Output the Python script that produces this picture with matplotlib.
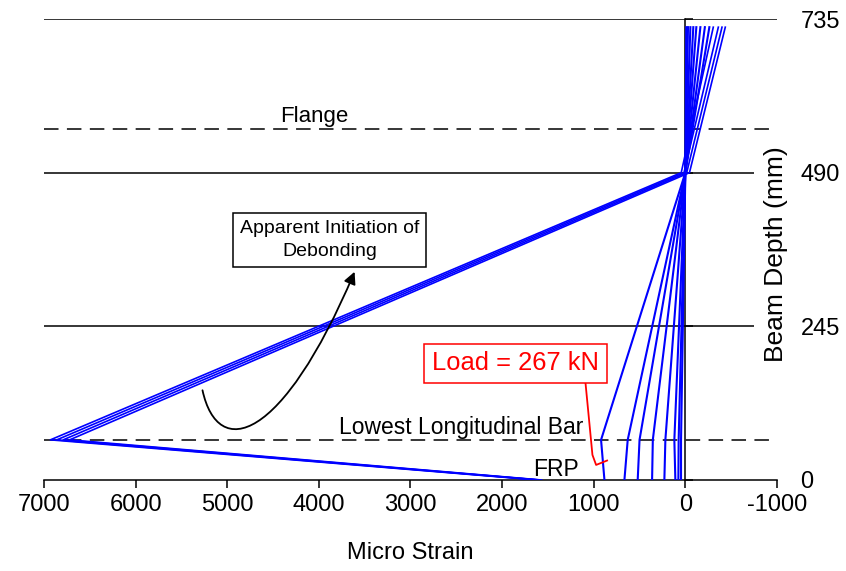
import numpy as np
import matplotlib
matplotlib.use("Agg")
import matplotlib.pyplot as plt
from matplotlib.path import Path
from matplotlib.patches import FancyArrowPatch

plt.rcParams['font.family'] = ['Liberation Sans', 'DejaVu Sans']
plt.rcParams['axes.unicode_minus'] = False

# gauge depths (mm) : FRP, lowest bar, mid, top
gauge_depth = [0, 64, 490, 722]

# strain profiles (micro strain) at the gauge depths, one row per load step
frp_strain = [47, 76, 109, 229, 363, 520, 665, 883, 1620, 1600, 1590, 1570]
bar_strain = [47, 73, 120, 218, 355, 500, 629, 920, 6930, 6860, 6790, 6720]
mid_strain = [0, 0, 0, 0, 0, 0, 0, 0, 45, 15, -15, -45]
top_strain = [-10, -29, -55, -87, -120, -164, -213, -262, -305, -360, -400, -436]

solid_levels = [245, 490, 735]
dashed_levels = [64, 560]
depth_ticks = [0, 245, 490, 735]
strain_ticks = [7000, 6000, 5000, 4000, 3000, 2000, 1000, 0, -1000]

# bezier leader of "Apparent Initiation of Debonding" (start, ctrl, ctrl, end)
debond_path = [(5270, 143), (5100, 30), (4400, 60), (3610, 332)]
# red leader from the load label
load_x = [1090, 1014, 974, 854]
load_y = [155, 40, 24, 31]

fig = plt.figure(figsize=(8.46, 5.71), dpi=100)
ax = fig.add_axes([0.052, 0.1594, 0.8664, 0.8073])

ax.set_xlim(7000, -1000)
ax.set_ylim(0, 735)

for i in range(len(frp_strain)):
    xs = [frp_strain[i], bar_strain[i], mid_strain[i], top_strain[i]]
    lw = 1.5 if i < 8 else 1.2
    ax.plot(xs, gauge_depth, color='#0000FF', lw=lw, zorder=3)

dash = (0, (9.5, 5.5))
ax.hlines(735, 7000, -1000, color='k', lw=1.1, zorder=2)
ax.hlines([245, 490], 7000, -750, color='k', lw=1.1, zorder=2)
ax.hlines(dashed_levels, 7000, -1000, color='k', lw=1.1, linestyles=dash, zorder=2)

for s in ['top', 'right']:
    ax.spines[s].set_visible(False)
ax.spines['left'].set_position(('data', 0))
ax.spines['left'].set_bounds(0, 735)
ax.spines['left'].set_linewidth(1.1)
ax.spines['bottom'].set_linewidth(1.1)

ax.set_xticks(strain_ticks)
ax.set_yticks(depth_ticks)
ax.tick_params(axis='x', direction='out', length=6, width=1.1, labelsize=17, pad=4)
ax.tick_params(axis='y', direction='in', length=6, width=1.1, left=True, right=False,
               labelleft=False, labelright=True, labelsize=17, pad=17)
ax.set_xlabel('Micro Strain', fontsize=17, labelpad=19)
ax.text(0.998, 0.49, 'Beam Depth (mm)', transform=ax.transAxes, rotation=90,
        ha='center', va='center', fontsize=19)

ax.text(4046, 580, 'Flange', ha='center', va='center', fontsize=16)
ax.text(2443, 83, 'Lowest Longitudinal Bar', ha='center', va='center', fontsize=16.5)
ax.text(1407, 16, 'FRP', ha='center', va='center', fontsize=16.5)

ax.text(3879, 383, 'Apparent Initiation of\nDebonding', ha='center', va='center',
        fontsize=14, linespacing=1.45,
        bbox=dict(boxstyle='square,pad=0.35', fc='white', ec='k', lw=1.1), zorder=5)
curve = Path(debond_path, [Path.MOVETO, Path.CURVE4, Path.CURVE4, Path.CURVE4])
ax.add_patch(FancyArrowPatch(path=curve, arrowstyle='-|>', color='k', lw=1.3,
                             mutation_scale=18, zorder=4))

ax.text(1854, 186, 'Load = 267 kN', ha='center', va='center', fontsize=18.4, color='#FF0000',
        bbox=dict(boxstyle='square,pad=0.3', fc='white', ec='#FF0000', lw=1.1), zorder=5)
ax.plot(load_x, load_y, color='#FF0000', lw=1.3, zorder=4)

fig.savefig('out.png', dpi=100)
